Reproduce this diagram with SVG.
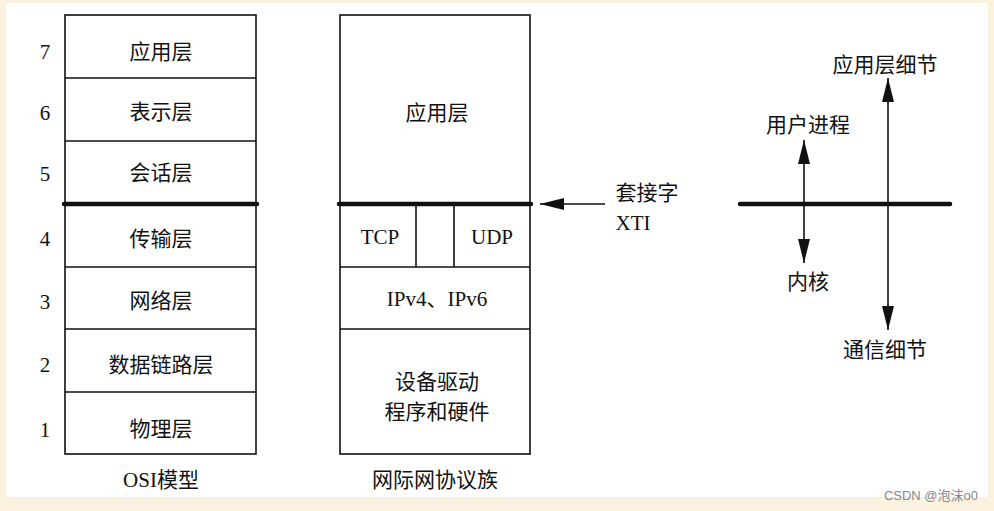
<svg xmlns="http://www.w3.org/2000/svg" width="994" height="511" viewBox="0 0 994 511">
<style>
.t{font-family:"Liberation Serif","Noto Sans CJK SC",serif;font-size:21px;fill:#111;text-anchor:middle}
.box{fill:none;stroke:#111;stroke-width:1.6}
.thick{stroke:#111;stroke-width:4.5;stroke-linecap:round}
.ln{stroke:#111;stroke-width:1.6;fill:none}
.wm{font-family:"Liberation Sans","Noto Sans CJK SC",sans-serif;font-size:13px;fill:#888;text-anchor:end}
</style>
<defs>
<marker id="ah" viewBox="0 0 24 12" refX="24" refY="6" markerWidth="24" markerHeight="12" markerUnits="userSpaceOnUse" orient="auto-start-reverse">
<path d="M0,0 L24,6 L0,12 Z" fill="#111"/>
</marker>
</defs>
<rect x="0" y="0" width="994" height="511" fill="#fbf1df"/>
<rect x="6" y="3" width="982" height="494" fill="#ffffff"/>

<g id="osi">
<rect class="box" x="65" y="15" width="191" height="439"/>
<line class="ln" x1="65" y1="78" x2="256" y2="78"/>
<line class="ln" x1="65" y1="141" x2="256" y2="141"/>
<line class="ln" x1="65" y1="267" x2="256" y2="267"/>
<line class="ln" x1="65" y1="329" x2="256" y2="329"/>
<line class="ln" x1="65" y1="392" x2="256" y2="392"/>
<line class="thick" x1="64" y1="204" x2="257" y2="204"/>
<text class="t" x="45" y="59">7</text>
<text class="t" x="45" y="120">6</text>
<text class="t" x="45" y="181">5</text>
<text class="t" x="45" y="246">4</text>
<text class="t" x="45" y="309">3</text>
<text class="t" x="45" y="372">2</text>
<text class="t" x="45" y="437">1</text>
<text class="t" x="161" y="59">应用层</text>
<text class="t" x="161" y="119">表示层</text>
<text class="t" x="161" y="180">会话层</text>
<text class="t" x="161" y="246">传输层</text>
<text class="t" x="161" y="308">网络层</text>
<text class="t" x="161" y="372">数据链路层</text>
<text class="t" x="161" y="436">物理层</text>
<text class="t" x="161" y="487">OSI模型</text>
</g>

<g id="tcpip">
<rect class="box" x="340" y="15" width="190" height="439"/>
<line class="ln" x1="340" y1="267" x2="530" y2="267"/>
<line class="ln" x1="340" y1="329" x2="530" y2="329"/>
<line class="ln" x1="416" y1="204" x2="416" y2="267"/>
<line class="ln" x1="454" y1="204" x2="454" y2="267"/>
<line class="thick" x1="339" y1="204" x2="531" y2="204"/>
<text class="t" x="437" y="120">应用层</text>
<text class="t" x="380" y="244">TCP</text>
<text class="t" x="492" y="244">UDP</text>
<text class="t" x="437" y="306">IPv4、IPv6</text>
<text class="t" x="437" y="389">设备驱动</text>
<text class="t" x="437" y="419">程序和硬件</text>
<text class="t" x="435" y="487">网际网协议族</text>
</g>

<g id="socket-label">
<text class="t" x="647" y="200">套接字</text>
<text class="t" x="633" y="230">XTI</text>
</g>

<g id="right">
<line class="thick" x1="740" y1="204" x2="950" y2="204"/>
<text class="t" x="885" y="72">应用层细节</text>
<text class="t" x="808" y="132">用户进程</text>
<text class="t" x="808" y="289">内核</text>
<text class="t" x="885" y="357">通信细节</text>
</g>

<g id="connectors">
<line class="ln" x1="605" y1="204" x2="540" y2="204" marker-end="url(#ah)"/>
<line class="ln" x1="804" y1="140" x2="804" y2="263" marker-start="url(#ah)" marker-end="url(#ah)"/>
<line class="ln" x1="888" y1="78" x2="888" y2="330" marker-start="url(#ah)" marker-end="url(#ah)"/>
</g>

<text class="wm" x="978" y="500">CSDN @泡沫o0</text>
</svg>
